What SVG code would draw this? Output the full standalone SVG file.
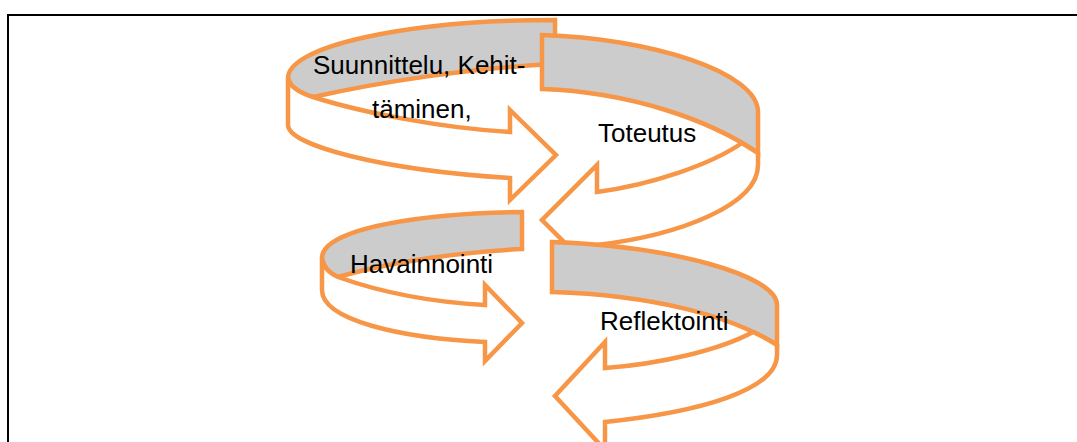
<svg xmlns="http://www.w3.org/2000/svg" width="1077" height="442" viewBox="0 0 1077 442">
<style>
.back{fill:#cccccc;stroke:#f79646;stroke-width:4.5;stroke-linejoin:miter}
.front{fill:#ffffff;stroke:#f79646;stroke-width:4.5;stroke-linejoin:miter}
.lbl{font-family:"Liberation Sans",Arial,sans-serif;font-size:26px;fill:#000000}
.frame{fill:none;stroke:#000000;stroke-width:2}
</style>
<rect width="1077" height="442" fill="#ffffff"/>
<path class="frame" d="M8 442 V15 H1077"/>
<g id="suunnittelu">
<path class="back" d="M555 20 A267 58 0 0 0 288 78 C290 87 300 93 313 97 C380 82 470 68 555 64 Z"/>
<path class="front" d="M288 78 C290 87 300 93 313 97 C360 112 440 128 510 132 L510 110 L556 155 L510 200 L510 178 C380 170 288 145 288 125 Z"/>
<text class="lbl" x="313" y="74">Suunnittelu, Kehit-</text>
<text class="lbl" x="372" y="118">täminen,</text>
</g>
<g id="toteutus">
<path class="back" d="M542 35 C650 38 758 72 758 112 L758 153 C710 120 630 92 542 89 Z"/>
<path class="front" d="M742 143 C710 165 650 185 597 192 L597 165 L542 220 L597 275 L597 245 C680 235 758 205 758 165 L758 153 Q750 148 742 143 Z"/>
<text class="lbl" x="598" y="142">Toteutus</text>
</g>
<g id="havainnointi">
<path class="back" d="M522 212 C425 213 322 228 322 258 C323 266 329 273 338 277 C390 262 460 252 522 249 Z"/>
<path class="front" d="M322 258 C323 266 329 273 338 277 C380 292 430 302 485 305 L485 285 L522 323 L485 361 L485 342 C400 338 322 320 322 290 Z"/>
<text class="lbl" x="350" y="273">Havainnointi</text>
</g>
<g id="reflektointi">
<path class="back" d="M552 242 C670 246 777 275 777 305 L777 345 C730 315 650 295 552 292 Z"/>
<path class="front" d="M753 332 C720 350 660 364 605 368 L605 342 L555 396 L605 450 L605 422 C700 412 777 390 777 355 L777 345 Q766 338 753 332 Z"/>
<text class="lbl" x="600" y="330">Reflektointi</text>
</g>
<g id="connectors"/>
</svg>
